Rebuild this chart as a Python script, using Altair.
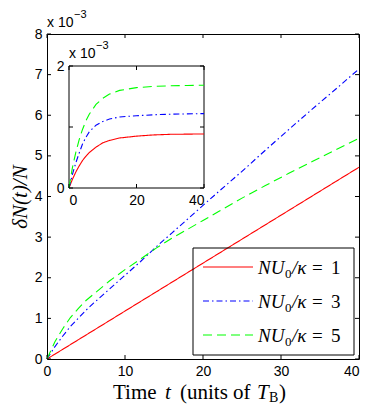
import altair as alt
import pandas as pd

# ---------------- data (delta N / N in units of 1e-3) ----------------
t_main = [0, 1, 2, 3, 4, 5, 6, 8, 10, 12, 14, 16, 18, 20, 22, 25, 28, 31, 34, 37, 40]
red_main = [0, 0.118, 0.236, 0.354, 0.472, 0.59, 0.708, 0.944, 1.18, 1.416, 1.652,
            1.888, 2.124, 2.36, 2.596, 2.95, 3.304, 3.658, 4.012, 4.366, 4.72]
blue_main = [0, 0.3, 0.56, 0.8, 1.0, 1.2, 1.38, 1.72, 2.06, 2.4, 2.76,
             3.1, 3.44, 3.78, 4.12, 4.62, 5.14, 5.65, 6.15, 6.64, 7.14]
green_main = [0, 0.42, 0.74, 1.02, 1.24, 1.44, 1.6, 1.92, 2.2, 2.46, 2.73,
              2.97, 3.19, 3.41, 3.63, 3.96, 4.27, 4.57, 4.86, 5.15, 5.43]

t_inset = [0, 1, 2, 3, 4, 5, 6, 8, 10, 12, 15, 20, 25, 30, 35, 40]
red_inset = [0, 0.14, 0.26, 0.36, 0.45, 0.52, 0.58, 0.67, 0.74, 0.78, 0.82,
             0.85, 0.87, 0.88, 0.883, 0.886]
blue_inset = [0, 0.22, 0.41, 0.57, 0.72, 0.83, 0.92, 1.03, 1.09, 1.13, 1.165,
              1.185, 1.2, 1.21, 1.215, 1.22]
green_inset = [0, 0.33, 0.58, 0.79, 0.96, 1.1, 1.21, 1.37, 1.47, 1.54, 1.6,
               1.645, 1.665, 1.675, 1.68, 1.685]

series = ["1", "3", "5"]
colors = ["#ff0000", "#0000ff", "#00ff00"]
dashes = [[1, 0], [6, 3, 1.5, 3], [9, 5]]

main_x_ticks = [0, 10, 20, 30, 40]
main_y_ticks = [0, 1, 2, 3, 4, 5, 6, 7, 8]
inset_x_ticks = [0, 20, 40]
inset_y_ticks = [0, 1, 2]

# ---------------- layout constants ----------------
W, H = 312, 325
IX0, IX1, IY0, IY1 = 22, 157, 154, 32   # inset frame in plot pixels
TK = 4                                   # inward tick length
SANS = "Liberation Sans, Arial, Helvetica, sans-serif"
SERIF = "Liberation Serif, Times New Roman, serif"


def long_df(t, cols):
    rows = []
    for s, vals in zip(series, cols):
        for ti, v in zip(t, vals):
            rows.append({"t": ti, "v": v, "s": s})
    return pd.DataFrame(rows)


main_df = long_df(t_main, [red_main, blue_main, green_main])
inset_df = long_df(t_inset, [red_inset, blue_inset, green_inset])
one = pd.DataFrame({"a": [0]})

color_enc = alt.Color("s:N", scale=alt.Scale(domain=series, range=colors), legend=None)
dash_enc = alt.StrokeDash("s:N", scale=alt.Scale(domain=series, range=dashes), legend=None)


def txt(s, x, y, size, font=SERIF, style="normal", align="left", baseline="alphabetic"):
    return alt.Chart(one).mark_text(
        text=s, font=font, fontSize=size, fontStyle=style, align=align,
        baseline=baseline, color="black"
    ).encode(x=alt.value(x), y=alt.value(y))


# ---------------- main panel ----------------
xs = alt.Scale(domain=[0, 40], nice=False, zero=False)
ys = alt.Scale(domain=[0, 8], nice=False, zero=False)

x_axis = alt.Axis(values=main_x_ticks, title=None, domain=False, ticks=False, tickSize=0,
                  grid=False, labelFont=SANS, labelFontSize=14, labelColor="black",
                  labelPadding=5, format="d",
                  labelAlign={"expr": "datum.value == 40 ? 'right' : 'center'"})
y_axis = alt.Axis(values=main_y_ticks, title="δN(t)/N", domain=False, ticks=False,
                  tickSize=0, grid=False, labelFont=SANS, labelFontSize=14,
                  labelColor="black", labelPadding=5, format="d", titleFont=SERIF,
                  titleFontStyle="italic", titleFontWeight="normal", titleFontSize=21,
                  titleColor="black", titlePadding=4)

main_lines = alt.Chart(main_df).mark_line(strokeWidth=1.1).encode(
    x=alt.X("t:Q", scale=xs, axis=x_axis),
    y=alt.Y("v:Q", scale=ys, axis=y_axis),
    color=color_enc, strokeDash=dash_enc, detail="s:N",
)

xt_df = pd.DataFrame({"t": main_x_ticks})
yt_df = pd.DataFrame({"v": main_y_ticks})
main_ticks = [
    alt.Chart(xt_df).mark_rule(color="black").encode(
        x=alt.X("t:Q", scale=xs), y=alt.value(H), y2=alt.value(H - TK)),
    alt.Chart(xt_df).mark_rule(color="black").encode(
        x=alt.X("t:Q", scale=xs), y=alt.value(0), y2=alt.value(TK)),
    alt.Chart(yt_df).mark_rule(color="black").encode(
        y=alt.Y("v:Q", scale=ys), x=alt.value(0), x2=alt.value(TK)),
    alt.Chart(yt_df).mark_rule(color="black").encode(
        y=alt.Y("v:Q", scale=ys), x=alt.value(W), x2=alt.value(W - TK)),
]

# x title "Time t (units of T_B)"
xt_y = 365
x_title = [
    txt("Time", 66, xt_y, 21),
    txt("t", 118, xt_y, 21, style="italic"),
    txt("(units of", 133, xt_y, 21),
    txt("T", 210, xt_y, 21, style="italic"),
    txt("B", 222, xt_y + 3, 14),
    txt(")", 232, xt_y, 21),
]

# exponent label of main axis
main_exp = [
    txt("x 10", 0, -7, 14, font=SANS),
    txt("−3", 27, -16, 11, font=SANS),
]

# legend (drawn as marks)
legend_parts = [
    alt.Chart(one).mark_rect(fillOpacity=0, stroke="black", strokeWidth=1).encode(
        x=alt.value(146), x2=alt.value(307), y=alt.value(214), y2=alt.value(321))
]
for i, (s, c, d) in enumerate(zip(series, colors, dashes)):
    ry = 233 + 34 * i
    legend_parts.append(
        alt.Chart(one).mark_rule(color=c, strokeDash=d, strokeWidth=1.1).encode(
            x=alt.value(156), x2=alt.value(206), y=alt.value(ry)))
    by = ry + 7
    legend_parts += [
        txt("NU", 211, by, 19, style="italic"),
        txt("0", 238, by + 4, 13),
        txt("/κ", 245, by, 19, style="italic"),
        txt("=", 265, by, 19),
        txt(s, 284, by, 19),
    ]

main_layer = alt.layer(main_lines, *main_ticks, *x_title, *main_exp, *legend_parts)

# ---------------- inset panel ----------------
ixs = alt.Scale(domain=[0, 40], range=[IX0, IX1], nice=False, zero=False)
iys = alt.Scale(domain=[0, 2], range=[IY0, IY1], nice=False, zero=False)

ix_axis = alt.Axis(values=inset_x_ticks, orient="bottom", offset=-(H - IY0), title=None,
                   domain=False, ticks=False, tickSize=0, grid=False, labelFont=SANS,
                   labelFontSize=14, labelColor="black", labelPadding=5, format="d")
iy_axis = alt.Axis(values=inset_y_ticks, orient="left", offset=-IX0, title=None,
                   domain=False, ticks=False, tickSize=0, grid=False, labelFont=SANS,
                   labelFontSize=14, labelColor="black", labelPadding=5, format="d")

inset_bg = alt.Chart(one).mark_rect(fill="white", stroke="black", strokeWidth=1).encode(
    x=alt.value(IX0), x2=alt.value(IX1), y=alt.value(IY1), y2=alt.value(IY0))

inset_lines = alt.Chart(inset_df).mark_line(strokeWidth=1.1).encode(
    x=alt.X("t:Q", scale=ixs, axis=ix_axis),
    y=alt.Y("v:Q", scale=iys, axis=iy_axis),
    color=color_enc, strokeDash=dash_enc, detail="s:N",
)

ixt_df = pd.DataFrame({"t": inset_x_ticks})
iyt_df = pd.DataFrame({"v": inset_y_ticks})
inset_ticks = [
    alt.Chart(ixt_df).mark_rule(color="black").encode(
        x=alt.X("t:Q", scale=ixs), y=alt.value(IY0), y2=alt.value(IY0 - TK)),
    alt.Chart(ixt_df).mark_rule(color="black").encode(
        x=alt.X("t:Q", scale=ixs), y=alt.value(IY1), y2=alt.value(IY1 + TK)),
    alt.Chart(iyt_df).mark_rule(color="black").encode(
        y=alt.Y("v:Q", scale=iys), x=alt.value(IX0), x2=alt.value(IX0 + TK)),
    alt.Chart(iyt_df).mark_rule(color="black").encode(
        y=alt.Y("v:Q", scale=iys), x=alt.value(IX1), x2=alt.value(IX1 - TK)),
]

inset_exp = [
    txt("x 10", IX0, IY1 - 8, 14, font=SANS),
    txt("−3", IX0 + 27, IY1 - 17, 11, font=SANS),
]

inset_layer = alt.layer(inset_bg, inset_lines, *inset_ticks, *inset_exp)

chart = alt.layer(main_layer, inset_layer).resolve_scale(
    x="independent", y="independent"
).properties(
    width=W, height=H,
    padding={"left": 39, "top": 26, "right": 7, "bottom": 46},
    autosize=alt.AutoSizeParams(type="none"),
    background="white",
).configure_view(stroke="black", strokeWidth=1)

chart.save("out.html", embed_options={"renderer": "svg", "actions": False})
